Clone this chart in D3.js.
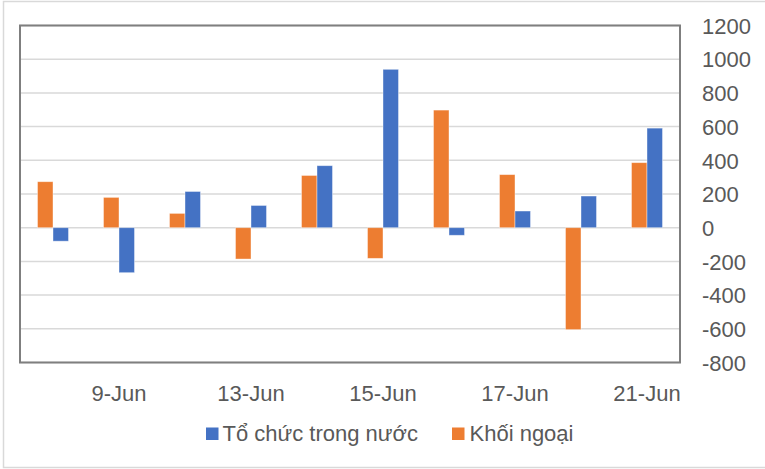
<!DOCTYPE html>
<html>
<head>
<meta charset="utf-8">
<script src="https://cdn.jsdelivr.net/npm/d3@7"></script>
<style>
  html, body { margin: 0; padding: 0; background: #fff; }
  svg { display: block; }
  text { font-family: "Liberation Sans", Arial, sans-serif; fill: #595959; }
</style>
</head>
<body>
<svg id="chart" width="765" height="469"></svg>
<script>
const categories = ["8-Jun", "9-Jun", "10-Jun", "13-Jun", "14-Jun", "15-Jun", "16-Jun", "17-Jun", "20-Jun", "21-Jun"];
const khoiNgoai = [273, 180, 85, -186, 310, -182, 698, 315, -605, 386];
const toChucTrongNuoc = [-80, -267, 215, 132, 368, 940, -45, 99, 188, 591];
const seriesNames = ["Tổ chức trong nước", "Khối ngoại"];
const seriesColors = ["#4472C4", "#ED7D31"];
const yTicks = [-800, -600, -400, -200, 0, 200, 400, 600, 800, 1000, 1200];
const shownLabels = ["9-Jun", "13-Jun", "15-Jun", "17-Jun", "21-Jun"];

const svg = d3.select("#chart");
const plot = { left: 20, right: 680, top: 25.5, bottom: 362.5 };

// outer border
svg.append("rect").attr("x", 3.5).attr("y", 1.5).attr("width", 770).attr("height", 466)
  .attr("fill", "none").attr("stroke", "#d9d9d9").attr("stroke-width", 1.5);

const x = d3.scaleBand().domain(categories).range([plot.left, plot.right]).padding(0);
const barW = 15.5;
const x1 = d3.scaleBand().domain(["Khối ngoại", "Tổ chức trong nước"])
  .range([x.bandwidth() / 2 - barW, x.bandwidth() / 2 + barW]).padding(0);
const y = d3.scaleLinear().domain([-800, 1200]).range([plot.bottom, plot.top]);

// gridlines
svg.append("g").selectAll("line").data(yTicks).join("line")
  .attr("x1", plot.left).attr("x2", plot.right)
  .attr("y1", d => y(d)).attr("y2", d => y(d))
  .attr("stroke", "#d9d9d9").attr("stroke-width", 1.5);

// bars
const rows = categories.map((c, i) => ({ c, values: [
  { key: "Khối ngoại", v: khoiNgoai[i], color: seriesColors[1] },
  { key: "Tổ chức trong nước", v: toChucTrongNuoc[i], color: seriesColors[0] }
]}));
const g = svg.append("g").selectAll("g").data(rows).join("g")
  .attr("transform", d => `translate(${x(d.c)},0)`);
g.selectAll("rect").data(d => d.values).join("rect")
  .attr("x", d => x1(d.key))
  .attr("width", x1.bandwidth())
  .attr("y", d => y(Math.max(0, d.v)))
  .attr("height", d => Math.abs(y(d.v) - y(0)))
  .attr("fill", d => d.color)
  .attr("stroke", "#fff").attr("stroke-opacity", 0.5).attr("stroke-width", 0.8);

// plot border
svg.append("rect").attr("x", plot.left).attr("y", plot.top)
  .attr("width", plot.right - plot.left).attr("height", plot.bottom - plot.top)
  .attr("fill", "none").attr("stroke", "#7f7f7f").attr("stroke-width", 2);

// right y-axis labels
const yAxis = d3.axisRight(y).tickValues(yTicks).tickSize(0).tickPadding(0)
  .tickFormat(d => String(d));
const ya = svg.append("g").attr("transform", `translate(702,0)`).call(yAxis);
ya.select(".domain").remove();
ya.selectAll("text").attr("font-size", 22).attr("fill", "#595959")
  .attr("font-family", "'Liberation Sans', Arial, sans-serif").attr("dy", "0.35em");

// x labels
const xAxis = d3.axisBottom(x).tickValues(shownLabels).tickSize(0).tickPadding(0);
const xa = svg.append("g").attr("transform", `translate(0,401)`).call(xAxis);
xa.select(".domain").remove();
xa.selectAll("text").attr("font-size", 22).attr("fill", "#595959")
  .attr("font-family", "'Liberation Sans', Arial, sans-serif").attr("dy", 0).attr("y", 0);

// legend
const legendItems = [
  { name: seriesNames[0], color: seriesColors[0], sx: 206, tx: 222.5 },
  { name: seriesNames[1], color: seriesColors[1], sx: 452, tx: 469.5 }
];
const lg = svg.append("g");
lg.selectAll("rect").data(legendItems).join("rect")
  .attr("x", d => d.sx).attr("y", 427.5).attr("width", 12.5).attr("height", 12.5)
  .attr("fill", d => d.color);
lg.selectAll("text").data(legendItems).join("text")
  .attr("x", d => d.tx).attr("y", 441).attr("font-size", 22)
  .text(d => d.name);
</script>
</body>
</html>
